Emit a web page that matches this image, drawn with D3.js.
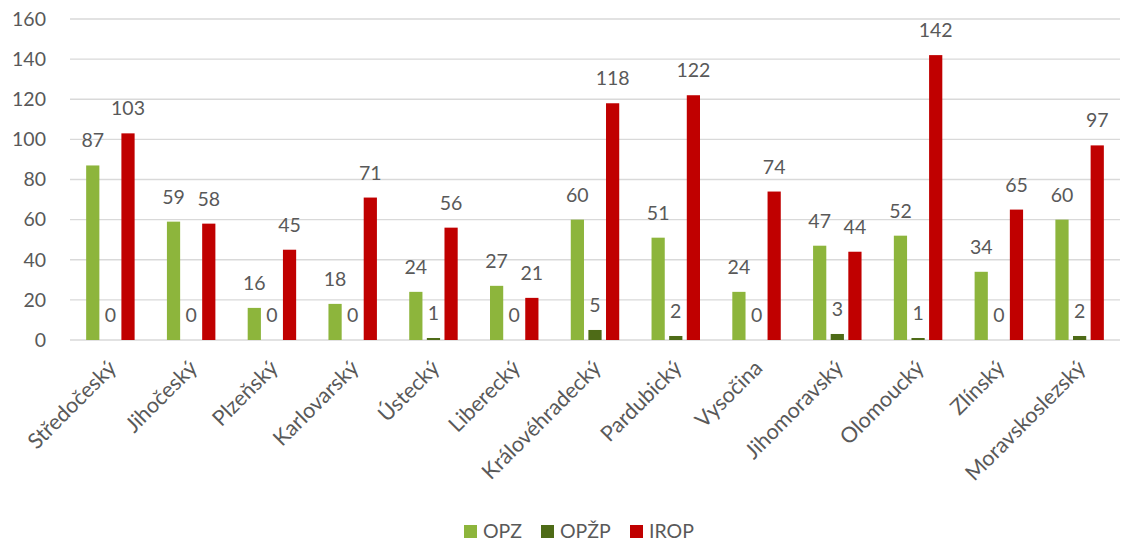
<!DOCTYPE html>
<html>
<head>
<meta charset="utf-8">
<script src="https://cdn.jsdelivr.net/npm/d3@7"></script>
<style>
  body { margin: 0; background: #fff; }
  text { font-family: Lato, "Open Sans", sans-serif; fill: #595959; }
</style>
</head>
<body>
<div id="chart"></div>
<script>
var regions = ["Středočeský", "Jihočeský", "Plzeňský", "Karlovarský", "Ústecký", "Liberecký",
    "Královéhradecký", "Pardubický", "Vysočina", "Jihomoravský", "Olomoucký", "Zlínský", "Moravskoslezský"];
var seriesNames = ["OPZ", "OPŽP", "IROP"];
var opz = [87, 59, 16, 18, 24, 27, 60, 51, 24, 47, 52, 34, 60];
var opzp = [0, 0, 0, 0, 1, 0, 5, 2, 0, 3, 1, 0, 2];
var irop = [103, 58, 45, 71, 56, 21, 118, 122, 74, 44, 142, 65, 97];
var yTicks = [0, 20, 40, 60, 80, 100, 120, 140, 160];

var colors = ["#8db53c", "#4e6b17", "#c00000"];
var values = [opz, opzp, irop];

var W = 1122, H = 543;
var margin = {top: 19, right: 2, bottom: 203, left: 70},
    width = W - margin.left - margin.right,
    height = H - margin.top - margin.bottom;

var svg = d3.select("#chart").append("svg")
    .attr("width", W).attr("height", H)
  .append("g")
    .attr("transform", "translate(" + margin.left + "," + margin.top + ")");

var x = d3.scaleBand().domain(regions).range([0, width]).paddingInner(0.4).paddingOuter(0.2);
var xs = d3.scaleBand().domain(seriesNames).range([0, x.bandwidth()]).paddingInner(0.25);
var y = d3.scaleLinear().domain([0, 160]).range([height, 0]);

// gridlines
svg.append("g").selectAll("line").data(yTicks).enter().append("line")
    .attr("x1", 0).attr("x2", width)
    .attr("y1", function(d) { return y(d); }).attr("y2", function(d) { return y(d); })
    .style("stroke", "#d9d9d9").style("stroke-width", 1.3);

// y axis labels
var yAxis = svg.append("g").call(d3.axisLeft(y).tickValues(yTicks).tickSize(0).tickPadding(24));
yAxis.select(".domain").remove();
yAxis.selectAll("text").style("font-size", "19.5px").style("fill", "#595959")
    .style("font-family", "Lato, sans-serif");

// bars
seriesNames.forEach(function(s, i) {
    var g = svg.append("g");
    g.selectAll("rect").data(values[i]).enter().append("rect")
        .attr("x", function(d, j) { return x(regions[j]) + xs(s); })
        .attr("width", xs.bandwidth())
        .attr("y", function(d) { return y(d); })
        .attr("height", function(d) { return height - y(d); })
        .style("fill", colors[i]);
    g.selectAll("text").data(values[i]).enter().append("text")
        .attr("x", function(d, j) { return x(regions[j]) + xs(s) + xs.bandwidth() / 2; })
        .attr("y", function(d) { return y(d) - 18; })
        .attr("text-anchor", "middle")
        .style("font-size", "19.5px")
        .text(function(d) { return d; });
});

// category labels
svg.append("g").selectAll("text").data(regions).enter().append("text")
    .attr("transform", function(d) {
        return "translate(" + (x(d) + x.bandwidth() / 2 + 2) + "," + (height + 24) + ") rotate(-45)";
    })
    .attr("text-anchor", "end")
    .attr("dy", "0.35em")
    .style("font-size", "21.5px")
    .text(function(d) { return d; });

// legend
var legendX = [464, 541, 630];
var legend = d3.select("svg").append("g");
seriesNames.forEach(function(s, i) {
    legend.append("rect").attr("x", legendX[i]).attr("y", 525).attr("width", 13).attr("height", 13)
        .style("fill", colors[i]);
    legend.append("text").attr("x", legendX[i] + 19).attr("y", 538)
        .style("font-size", "19.5px").text(s);
});
</script>
</body>
</html>
